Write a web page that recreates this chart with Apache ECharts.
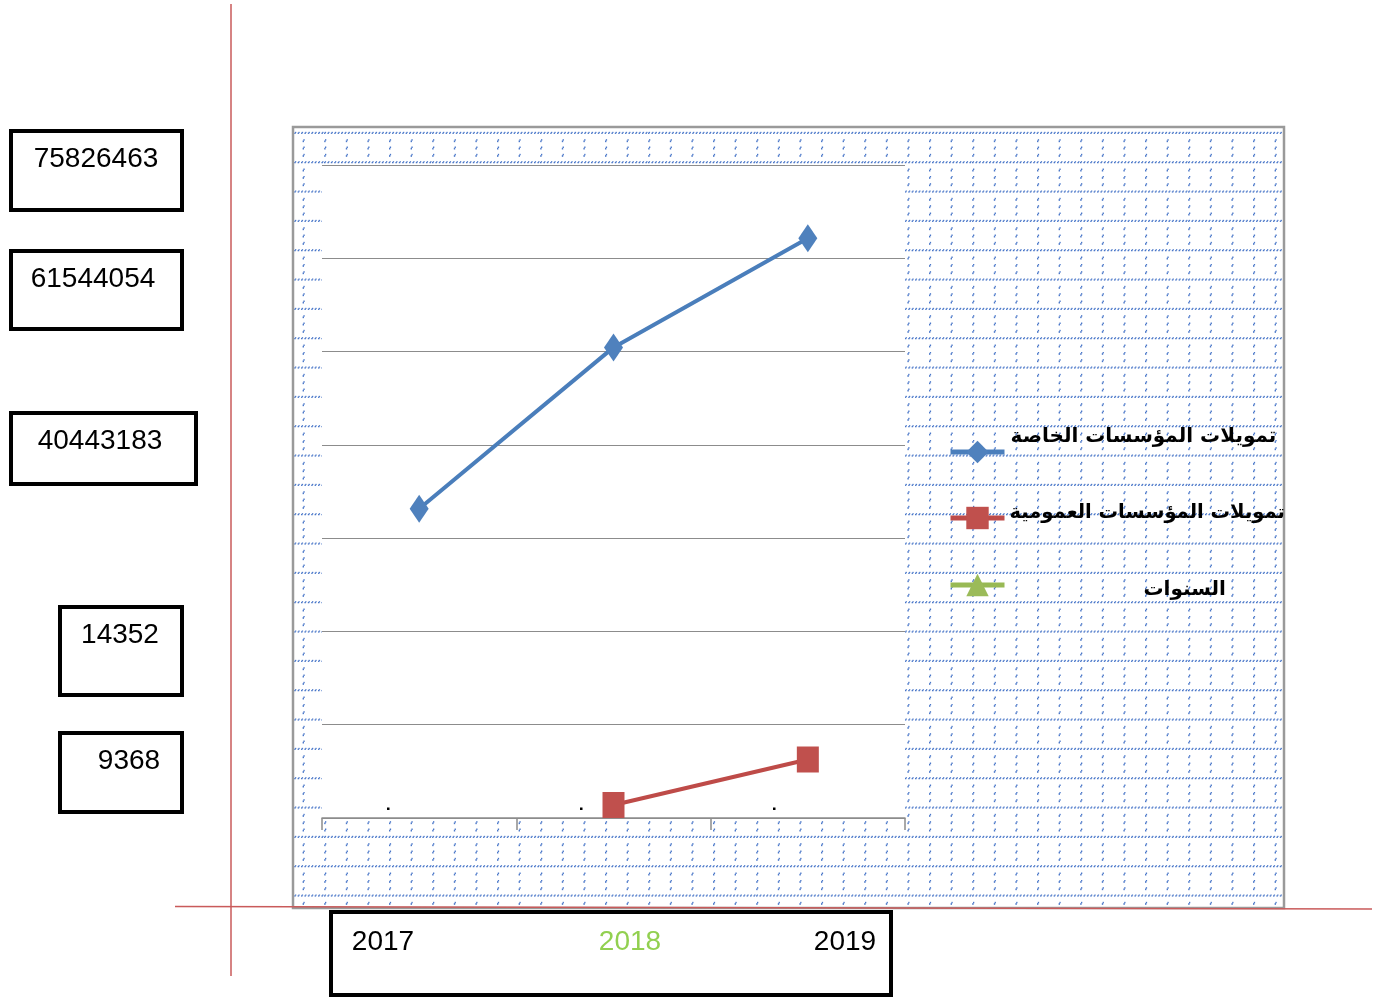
<!DOCTYPE html>
<html>
<head>
<meta charset="utf-8">
<script src="https://cdn.jsdelivr.net/npm/echarts@6/dist/echarts.min.js"></script>
<style>
  html, body { margin: 0; padding: 0; background: #fff; }
  #chart { width: 1386px; height: 999px; }
</style>
</head>
<body>
<div id="chart"></div>
<script>
// Financing by year
const years = ['2017', '2018', '2019'];
const privateFunding = [40443183, 61544054, 75826463];
const publicFunding = [null, 9368, 14352];
const seriesNames = ['تمويلات المؤسسات الخاصة', 'تمويلات المؤسسات العمومية', 'السنوات'];

// value boxes on the left, top to bottom
const boxValues = [privateFunding[2], privateFunding[1], privateFunding[0], publicFunding[2], publicFunding[1]];

const BLUE = '#4f81bd', RED = '#c0504d', GREEN = '#9bbb59';
const NUM_FONT = '28px "Liberation Sans", Arial, sans-serif';

// dotted grid fill for the chart frame
function makePattern() {
  const c = document.createElement('canvas');
  c.width = 108; c.height = 88;
  const g = c.getContext('2d');
  g.fillStyle = 'rgba(55,105,195,0.9)';
  const rowStep = 88 / 3, colStep = 108 / 5, row0 = 15.8;
  for (let r = 0; r < 3; r++) {
    const y = row0 + r * rowStep;
    for (let x = 0; x < 108; x += 3.4) {
      g.fillRect(x, y - 0.5, 1.5, 1.3);
      g.fillRect(x + 0.8, y - 1.3, 1.3, 1.1);
    }
    for (let k = 1; k <= 3; k++) {
      const vy = (y + k * rowStep / 4) % 88;
      for (let col = 0; col < 5; col++) {
        g.fillRect(0.2 + col * colStep, vy, 1.4, 1.7);
        g.fillRect(1.0 + col * colStep, vy - 1.3, 1.3, 1.5);
      }
    }
  }
  return c;
}

const boxLayout = [
  { x: 11, y: 131, w: 171, h: 79, tx: 96, ty: 159 },
  { x: 11, y: 251, w: 171, h: 78, tx: 93, ty: 279 },
  { x: 11, y: 413, w: 185, h: 71, tx: 100, ty: 441 },
  { x: 60, y: 607, w: 122, h: 88, tx: 120, ty: 635 },
  { x: 60, y: 733, w: 122, h: 79, tx: 129, ty: 761 }
];
const yearLayout = [{ x: 383, c: '#000' }, { x: 630, c: '#92d050' }, { x: 845, c: '#000' }];

const graphics = [
  {
    type: 'rect', z: -10, silent: true,
    shape: { x: 293, y: 127, width: 991, height: 781 },
    style: { fill: { image: makePattern(), repeat: 'repeat' }, stroke: '#9a9a9a', lineWidth: 2.5 }
  }
];
boxValues.forEach((v, i) => {
  const b = boxLayout[i];
  graphics.push({ type: 'rect', z: 50, shape: { x: b.x, y: b.y, width: b.w, height: b.h },
    style: { fill: '#fff', stroke: '#000', lineWidth: 4 } });
  graphics.push({ type: 'text', z: 51, style: { text: String(v), x: b.tx, y: b.ty,
    font: NUM_FONT, fill: '#000', align: 'center', verticalAlign: 'middle' } });
});
graphics.push({ type: 'rect', z: 50, shape: { x: 331, y: 912, width: 560, height: 83 },
  style: { fill: '#fff', stroke: '#000', lineWidth: 4 } });
years.forEach((yr, i) => {
  graphics.push({ type: 'text', z: 51, style: { text: yr, x: yearLayout[i].x, y: 942,
    font: NUM_FONT, fill: yearLayout[i].c, align: 'center', verticalAlign: 'middle' } });
});
// small specks above the category axis
[387, 580, 773].forEach(x => {
  graphics.push({ type: 'rect', z: 20, shape: { x: x, y: 807.5, width: 2.5, height: 2.5 }, style: { fill: '#000' } });
});
// red guide lines
graphics.push({ type: 'line', z: 60, shape: { x1: 231, y1: 4, x2: 231, y2: 976 },
  style: { stroke: '#c95a5a', lineWidth: 1.5 } });
graphics.push({ type: 'line', z: 60, shape: { x1: 175, y1: 906.5, x2: 1372, y2: 909 },
  style: { stroke: '#c95a5a', lineWidth: 1.5 } });

function legendFor(name, left, top, pad, size) {
  return {
    data: [name], left: left, top: top, padding: 0, orient: 'vertical',
    itemWidth: 54, itemHeight: 28,
    lineStyle: { width: 5 },
    formatter: n => '{t|' + n + '}',
    textStyle: { rich: { t: { fontSize: size, fontWeight: 'bold', fontFamily: '"DejaVu Sans", sans-serif',
      color: '#000', lineHeight: 28, padding: pad } } }
  };
}

const chart = echarts.init(document.getElementById('chart'), null, { renderer: 'canvas' });
chart.setOption({
  animation: false,
  backgroundColor: '#fff',
  grid: { left: 322, right: 481, top: 165, bottom: 181, show: true, backgroundColor: '#fff', borderWidth: 0 },
  xAxis: {
    type: 'category', data: years, boundaryGap: true,
    axisLine: { lineStyle: { color: '#8c8c8c', width: 1.5 } },
    axisTick: { show: true, length: 12, lineStyle: { color: '#8c8c8c', width: 1.5 } },
    axisLabel: { show: false }
  },
  yAxis: [
    {
      type: 'value', min: 0, max: 85400000, interval: 12200000,
      axisLine: { show: false }, axisTick: { show: false }, axisLabel: { show: false },
      splitLine: { lineStyle: { color: '#8c8c8c', width: 1.2 } }
    },
    {
      type: 'value', min: 7944, max: 79474, show: false, splitLine: { show: false }
    }
  ],
  legend: [
    legendFor(seriesNames[0], 948, 427, [0, 0, 30, 1], 20),
    legendFor(seriesNames[1], 948, 503, [0, 0, 10, 0], 19.5),
    legendFor(seriesNames[2], 948, 570, [10, 0, 0, 134], 20)
  ],
  series: [
    {
      name: seriesNames[0], type: 'line', data: privateFunding,
      symbol: 'diamond', symbolSize: [19, 28],
      lineStyle: { color: '#4a7ebb', width: 4 }, itemStyle: { color: BLUE }
    },
    {
      name: seriesNames[1], type: 'line', yAxisIndex: 1, data: publicFunding,
      symbol: 'rect', symbolSize: [22, 26],
      lineStyle: { color: '#be4b48', width: 4 }, itemStyle: { color: RED }
    },
    {
      name: seriesNames[2], type: 'line', data: [],
      symbol: 'triangle', symbolSize: 22,
      lineStyle: { color: '#98b954', width: 4 }, itemStyle: { color: GREEN }
    }
  ],
  graphic: graphics
});
</script>
</body>
</html>
